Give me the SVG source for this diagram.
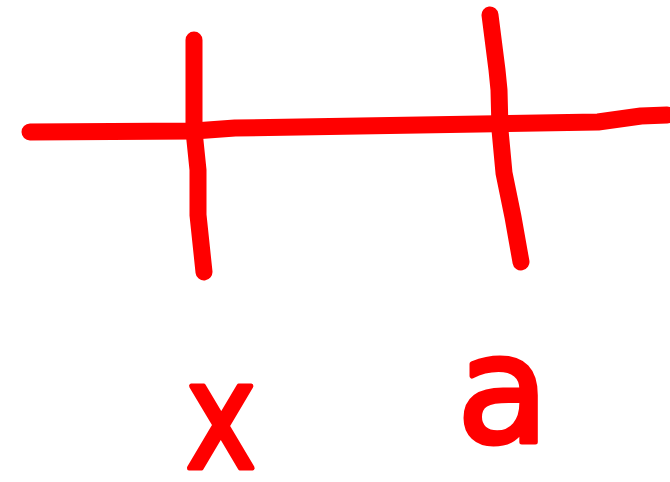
<svg xmlns="http://www.w3.org/2000/svg" width="670" height="482" viewBox="0 0 670 482">
<style>
.s{fill:none;stroke:#ff0000;stroke-width:17;stroke-linecap:round;stroke-linejoin:round}
.t{font-family:"DejaVu Sans","Liberation Sans",sans-serif;fill:#ff0000;stroke:#ff0000;stroke-width:5;stroke-linejoin:round;text-anchor:middle}
</style>
<rect width="670" height="482" fill="#ffffff"/>
<g id="lines">
<path class="s" d="M30,132 L194,131 L235,128 L598,122 L641,116 L667,115"/>
<path class="s" d="M194,40 L194,131 L198,170 L198,215 L204,272"/>
<path class="s" d="M490,15 L497,70 L499,90 L500,130 L504,173 L513,217 L521,262"/>
</g>
<g id="labels">
<text class="t" x="221" y="468" font-size="150" transform="translate(221,0) scale(0.8,1) translate(-221,0)">x</text>
<text class="t" x="503" y="442" font-size="150">a</text>
</g>
</svg>
